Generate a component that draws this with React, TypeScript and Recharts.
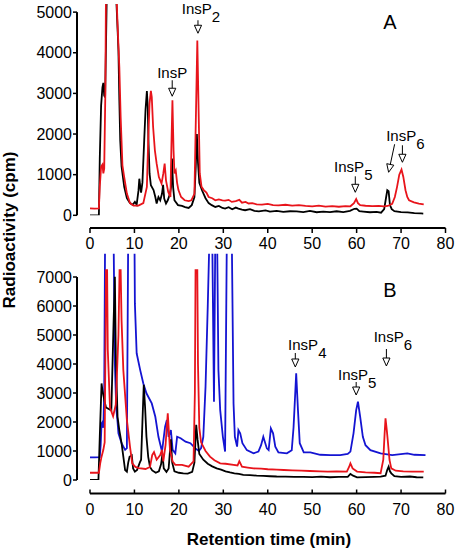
import React from 'react';
import { LineChart, Line, XAxis, YAxis, ReferenceLine, ReferenceDot } from 'recharts';

type Pt = [number, number];

// retention time (min), radioactivity (cpm)
const aBlack: Pt[] = [
  [0, 0], [1, 0], [2, 0], [2.2, 1400], [2.5, 2700], [2.8, 3150], [3, 3260], [3.2, 2950], [3.4, 2900],
  [3.6, 4200], [3.8, 5600], [5.8, 5600], [6, 5100], [6.2, 4600], [6.4, 4050], [6.6, 2850], [6.8, 1850],
  [7.1, 1200], [7.7, 700], [8.3, 420], [9, 300], [9.6, 260], [10.1, 330], [10.5, 260], [10.9, 600],
  [11.1, 900], [11.4, 620], [11.5, 560], [11.8, 810], [12.2, 1850], [12.5, 2600], [12.8, 3060], [13, 2670],
  [13.15, 1850], [13.4, 1030], [13.7, 740], [14.3, 620], [14.7, 450], [15, 290], [15.4, 450], [15.8, 370],
  [16.2, 530], [16.45, 750], [16.7, 410], [17.1, 290], [17.5, 370], [18, 530], [18.25, 700], [18.45, 1400],
  [18.7, 700], [19, 370], [19.8, 250], [20.7, 230], [21.4, 200], [22.2, 180], [22.9, 250], [23.5, 450],
  [23.8, 1200], [24.05, 2000], [24.3, 1300], [24.6, 800], [25.2, 616], [26, 420], [26.7, 300], [27.4, 250],
  [28.2, 205], [29, 230], [29.8, 180], [30.4, 165], [31.2, 200], [32, 150], [32.8, 190], [33.4, 165],
  [34.2, 140], [34.9, 125], [36, 150], [37, 110], [38, 95], [39.5, 120], [40.5, 90], [42, 110], [43.5, 85],
  [45, 100], [46.5, 95], [48, 80], [49.5, 110], [51, 75], [52.5, 90], [54, 80], [55.5, 100], [57, 80],
  [58.5, 110], [59.5, 160], [60, 165], [60.6, 100], [61.5, 90], [63, 75], [64.5, 85], [65.5, 65], [66.2, 150],
  [66.6, 420], [66.9, 616], [67.2, 590], [67.5, 250], [67.9, 150], [68.5, 100], [70, 80], [71.5, 70],
  [73, 55], [74.5, 45], [75, 41],
];

const aRed: Pt[] = [
  [0, 170], [1, 165], [2, 170], [2.2, 700], [2.5, 1200], [2.8, 1250], [3, 1030], [3.2, 1150], [3.45, 3000],
  [3.6, 5600], [5.7, 5600], [6, 5300], [6.2, 4700], [6.6, 3650], [6.9, 2420], [7.3, 1230], [7.7, 940],
  [8.3, 535], [9, 300], [9.8, 240], [10.9, 240], [12, 300], [12.8, 700], [13.1, 1850], [13.4, 2750],
  [13.7, 3060], [13.9, 2910], [14.2, 2180], [14.6, 1600], [15, 1270], [15.5, 940], [16.1, 780], [16.5, 1030],
  [16.8, 1270], [17.1, 860], [17.6, 575], [18.1, 450], [18.3, 1600], [18.55, 2830], [18.8, 1600], [19, 1030],
  [19.3, 1100], [19.6, 800], [19.9, 620], [20.5, 450], [21.3, 370], [22.2, 350], [22.8, 370], [23.5, 530],
  [23.9, 2830], [24.15, 4300], [24.4, 2830], [24.7, 1030], [25.1, 700], [25.6, 620], [26.2, 560], [26.7, 450],
  [27.5, 420], [28.2, 370], [29, 390], [29.8, 370], [30.4, 360], [31.2, 380], [31.9, 330], [32.8, 350],
  [33.6, 380], [34.2, 310], [35, 330], [35.7, 290], [36.5, 300], [37.5, 270], [38.7, 263], [40, 280],
  [41.2, 250], [42.4, 246], [44, 260], [45.5, 240], [47, 250], [48.5, 230], [50, 222], [51.5, 240], [53, 215],
  [54.5, 225], [56, 210], [57.5, 225], [58.6, 222], [59.4, 300], [59.9, 400], [60.3, 300], [60.8, 250],
  [62, 235], [63.5, 225], [65, 230], [66.1, 222], [67, 230], [68, 280], [68.6, 450], [69.1, 700], [69.6, 1000],
  [70.1, 1125], [70.5, 950], [71, 616], [71.4, 450], [71.8, 370], [72.9, 320], [74, 290], [75.1, 270],
];

const bBlue: Pt[] = [
  [0, 780], [1, 780], [2.2, 790], [2.4, 1200], [2.6, 1950], [2.8, 2000], [3, 1800], [3.2, 3000], [3.4, 8500],
  [5.3, 8500], [5.6, 4000], [5.9, 2500], [6.2, 2000], [6.4, 1610], [7.1, 1270], [7.9, 1040], [8.3, 1100],
  [8.6, 8500], [10, 8500], [10.1, 6090], [10.5, 4370], [11.3, 3790], [12, 3330], [12.7, 2990], [13.9, 2640],
  [14.7, 2180], [15.4, 1490], [16.2, 980], [16.9, 1840], [17.3, 2070], [17.7, 1490], [18.2, 1720], [18.6, 1040],
  [19.2, 920], [19.6, 1490], [20.4, 1440], [21.5, 1320], [22.6, 1270], [23.7, 1090], [24.5, 1000], [25, 1100],
  [25.5, 1490], [26, 3220], [26.5, 6000], [26.9, 8500], [27.5, 8500], [27.9, 2700], [28.2, 8500], [28.6, 8500],
  [28.9, 3790], [29.3, 2410], [29.9, 1490], [30.4, 980], [30.8, 8500], [31.9, 8500], [32.3, 2640], [32.6, 1490],
  [33.1, 1150], [33.4, 1720], [33.8, 1610], [34.3, 1270], [35.3, 1030], [36.8, 920], [37.9, 980], [38.5, 1200],
  [39, 1490], [39.8, 1090], [40.2, 1030], [40.7, 1780], [41.2, 1610], [41.7, 1150], [42.4, 950], [44.3, 920],
  [45.4, 1030], [45.8, 1800], [46, 2410], [46.4, 3680], [46.8, 2410], [47.2, 1270], [48.1, 950], [49.6, 950],
  [51.8, 870], [54.1, 860], [56.3, 860], [58, 900], [58.6, 980], [59.3, 1610], [59.9, 2410], [60.3, 2700],
  [60.8, 2180], [61.4, 1490], [62, 1200], [63.1, 1030], [65.4, 920], [68, 860], [71.4, 920], [73, 870],
  [75.5, 860],
];

const bBlack: Pt[] = [
  [0, 0], [1, 0], [1.9, 0], [2.2, 1500], [2.6, 3330], [2.8, 3100], [3, 2930], [3.3, 2700], [3.6, 2500],
  [4.8, 2400], [5.3, 5400], [5.6, 7010], [5.8, 4370], [6, 3220], [6.2, 2180], [6.6, 1720], [7.1, 1270],
  [7.5, 805], [7.9, 345], [8.3, 290], [8.6, 600], [8.9, 800], [9.4, 850], [9.7, 400], [10.1, 290], [10.6, 350],
  [11.2, 600], [11.5, 700], [11.8, 2000], [12.1, 3280], [12.4, 2500], [12.7, 1500], [13.1, 800], [13.5, 450],
  [14, 330], [14.8, 250], [15.5, 300], [16, 550], [16.3, 900], [16.6, 400], [17.2, 280], [17.7, 400],
  [18.2, 1400], [18.5, 600], [19, 300], [20, 250], [21, 230], [22, 220], [23, 280], [23.5, 600], [23.9, 1900],
  [24.2, 1400], [24.6, 900], [25.5, 700], [26.5, 560], [27.5, 470], [28.5, 400], [29.5, 360], [30.5, 300],
  [31.5, 260], [32.5, 230], [33.5, 210], [34.5, 180], [36, 170], [37.5, 150], [39, 140], [40.5, 130], [42, 120],
  [44, 115], [46, 110], [48, 105], [50, 100], [52, 115], [54, 95], [56, 105], [58, 110], [58.6, 207],
  [59.2, 150], [60.1, 92], [62, 100], [64, 110], [65.4, 115], [66.5, 150], [66.9, 350], [67.2, 460],
  [67.5, 300], [67.8, 230], [68.5, 130], [70, 110], [72, 120], [73.5, 95], [75, 92],
];

const bRed: Pt[] = [
  [0, 250], [1, 250], [2, 250], [2.3, 575], [2.6, 805], [3, 1040], [3.3, 1300], [3.5, 5000], [3.6, 7240],
  [3.85, 7240], [4, 4500], [4.5, 2500], [5.2, 2200], [5.8, 2600], [6.4, 5000], [6.65, 7240], [6.9, 7240],
  [7.1, 5520], [7.5, 3790], [8.3, 2070], [9, 1150], [9.5, 575], [10.2, 450], [11, 410], [12.5, 380],
  [13.5, 450], [14, 860], [14.4, 960], [15, 700], [15.8, 860], [16.2, 1040], [16.5, 645], [17, 1200],
  [17.5, 2300], [18, 1040], [18.6, 640], [19.2, 520], [20.7, 520], [22.2, 460], [23.3, 640], [23.6, 3000],
  [23.75, 7240], [24.15, 7240], [24.3, 4000], [24.6, 1800], [25, 1300], [26, 1000], [27, 805], [28, 680],
  [29.3, 575], [30.5, 560], [32.3, 520], [33.2, 500], [33.6, 650], [34.2, 460], [35.5, 430], [36.8, 400],
  [38.5, 390], [40, 370], [42, 360], [43.6, 345], [45.5, 330], [47.5, 320], [49.5, 310], [51.8, 300],
  [53.5, 290], [55.5, 295], [57.8, 290], [58.3, 450], [58.6, 575], [59.1, 400], [60.1, 290], [62, 260],
  [64, 250], [65.4, 235], [66, 700], [66.3, 1600], [66.5, 2125], [66.8, 1700], [67, 1380], [67.4, 690],
  [67.8, 400], [68.8, 320], [70.5, 300], [72.5, 290], [75.1, 290],
];

const xTicks = [0, 10, 20, 30, 40, 50, 60, 70, 80];
const aTicks = [0, 1000, 2000, 3000, 4000, 5000];
const bTicks = [0, 1000, 2000, 3000, 4000, 5000, 6000, 7000];

// arrow tips (t, cpm) of the peak labels
const aNotes = [
  { t: 18.5, v: 2930, sub: '', tx: 0, ty: -18.6, from: [0, -16] },
  { t: 24.3, v: 4480, sub: '2', tx: 3, ty: -19.5, from: [0, -13] },
  { t: 59.7, v: 566, sub: '5', tx: -2, ty: -20, from: [0, -16] },
  { t: 70.3, v: 1305, sub: '6', tx: 3, ty: -21.6, from: [0, -17] },
  { t: 67.2, v: 1059, sub: null, tx: 0, ty: 0, from: [6, -28] },
];
const bNotes = [
  { t: 46.2, v: 3897, sub: '4', tx: 12, ty: -16.6, from: [0, -14] },
  { t: 59.9, v: 2931, sub: '5', tx: 1, ty: -14.6, from: [0, -13] },
  { t: 66.7, v: 3931, sub: '6', tx: 6.5, ty: -24, from: [0, -17] },
];

const FONT = '"Liberation Sans", Arial, Helvetica, sans-serif';
const RED = '#e8141b';
const BLUE = '#1414d2';
const LW = 1.8;

const rows = (pts: Pt[]) => pts.map(([t, v]) => ({ t, v }));

const Note = ({ viewBox, note }: any) => {
  const x = viewBox.x + (viewBox.width || 0) / 2;
  const y = viewBox.y + (viewBox.height || 0) / 2;
  const sx = x + note.from[0];
  const sy = y + note.from[1];
  const len = Math.hypot(x - sx, y - sy);
  const ux = (x - sx) / len;
  const uy = (y - sy) / len;
  const hb = 8;
  const bx = x - ux * hb;
  const by = y - uy * hb;
  const px = -uy * 3.6;
  const py = ux * 3.6;
  return (
    <g>
      <line x1={sx} y1={sy} x2={bx} y2={by} stroke="#000" strokeWidth={1} />
      <path d={`M${bx + px},${by + py} L${bx - px},${by - py} L${x},${y} Z`} fill="#fff" stroke="#000" strokeWidth={1} />
      {note.sub !== null && (
        <text x={x + note.tx} y={y + note.ty} textAnchor="middle" fontSize={15} fontFamily={FONT} fill="#000">
          InsP
          {note.sub && <tspan dy={8}>{note.sub}</tspan>}
        </text>
      )}
    </g>
  );
};

const tickStyle = { fill: '#000', fontSize: 16, fontFamily: FONT };

export default function App() {
  return (
    <div style={{ position: 'absolute', left: 0, top: 0, width: 456, height: 548, background: '#fff' }}>
      <div style={{ position: 'absolute', left: 0, top: 0 }}>
        <LineChart width={456} height={262} margin={{ top: 4, right: 10.5, bottom: 0, left: 0 }}>
          <XAxis
            type="number"
            dataKey="t"
            domain={[0, 80]}
            ticks={xTicks}
            interval={0}
            height={34}
            padding={{ left: 13, right: 0 }}
            axisLine={false}
            tickSize={5}
            tickMargin={5}
            tickLine={{ stroke: '#000', strokeWidth: 1.5 }}
            tick={tickStyle}
          />
          <YAxis
            type="number"
            domain={[0, 5200]}
            ticks={aTicks}
            interval={0}
            width={77}
            allowDataOverflow
            padding={{ top: 0, bottom: 12.7 }}
            axisLine={false}
            tickSize={4}
            tickMargin={1}
            tickLine={{ stroke: '#000', strokeWidth: 1.5 }}
            tick={tickStyle}
          />
          <ReferenceLine segment={[{ x: -2.925, y: 0 }, { x: -2.925, y: 5000 }]} stroke="#000" strokeWidth={2} ifOverflow="visible" />
          <ReferenceLine segment={[{ x: 0, y: -312.6 }, { x: 80, y: -312.6 }]} stroke="#000" strokeWidth={2} ifOverflow="visible" />
          <Line data={rows(aBlack)} dataKey="v" type="linear" stroke="#000" strokeWidth={LW} dot={false} isAnimationActive={false} />
          <Line data={rows(aRed)} dataKey="v" type="linear" stroke={RED} strokeWidth={LW} dot={false} isAnimationActive={false} />
          {aNotes.map((n, i) => (
            <ReferenceDot key={i} x={n.t} y={n.v} r={0} fill="none" stroke="none" ifOverflow="visible"
              label={(p: any) => <Note {...p} note={n} />} />
          ))}
        </LineChart>
      </div>
      <div style={{ position: 'absolute', left: 0, top: 250 }}>
        <LineChart width={456} height={298} margin={{ top: 3.8, right: 10.5, bottom: 0, left: 0 }}>
          <XAxis
            type="number"
            dataKey="t"
            domain={[0, 80]}
            ticks={xTicks}
            interval={0}
            height={54.5}
            padding={{ left: 13, right: 0 }}
            axisLine={false}
            tickSize={-4}
            tickMargin={14.3}
            tickLine={{ stroke: '#000', strokeWidth: 1.5 }}
            tick={tickStyle}
          />
          <YAxis
            type="number"
            domain={[0, 7800]}
            ticks={bTicks}
            interval={0}
            width={77}
            allowDataOverflow
            padding={{ top: 0, bottom: 13.5 }}
            axisLine={false}
            tickSize={4}
            tickMargin={1}
            tickLine={{ stroke: '#000', strokeWidth: 1.5 }}
            tick={tickStyle}
          />
          <ReferenceLine segment={[{ x: -2.925, y: 0 }, { x: -2.925, y: 7000 }]} stroke="#000" strokeWidth={2} ifOverflow="visible" />
          <ReferenceLine segment={[{ x: 0, y: -465.5 }, { x: 80, y: -465.5 }]} stroke="#000" strokeWidth={2} ifOverflow="visible" />
          <Line data={rows(bBlue)} dataKey="v" type="linear" stroke={BLUE} strokeWidth={LW} dot={false} isAnimationActive={false} />
          <Line data={rows(bBlack)} dataKey="v" type="linear" stroke="#000" strokeWidth={LW} dot={false} isAnimationActive={false} />
          <Line data={rows(bRed)} dataKey="v" type="linear" stroke={RED} strokeWidth={LW} dot={false} isAnimationActive={false} />
          {bNotes.map((n, i) => (
            <ReferenceDot key={i} x={n.t} y={n.v} r={0} fill="none" stroke="none" ifOverflow="visible"
              label={(p: any) => <Note {...p} note={n} />} />
          ))}
        </LineChart>
      </div>
      <svg width={456} height={548} style={{ position: 'absolute', left: 0, top: 0, pointerEvents: 'none' }}>
        <text transform="translate(15,230) rotate(-90)" textAnchor="middle" fontSize={17} fontWeight="bold" fontFamily={FONT} fill="#000">
          Radioactivity (cpm)
        </text>
        <text x={269} y={545} textAnchor="middle" fontSize={17} fontWeight="bold" fontFamily={FONT} fill="#000">
          Retention time (min)
        </text>
        <text x={390} y={29} textAnchor="middle" fontSize={20} fontFamily={FONT} fill="#000">A</text>
        <text x={390} y={297} textAnchor="middle" fontSize={20} fontFamily={FONT} fill="#000">B</text>
      </svg>
    </div>
  );
}
